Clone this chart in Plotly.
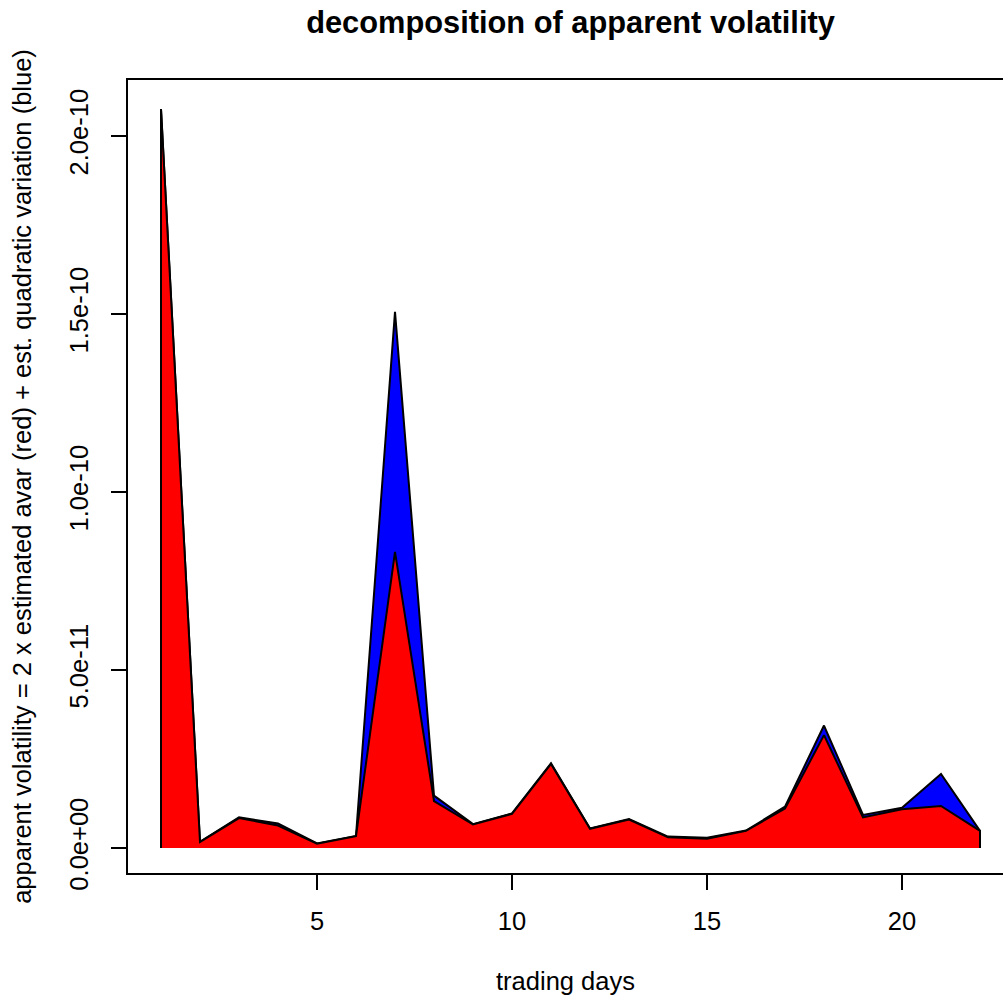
import plotly.graph_objects as go

days = list(range(1, 23))
# 2 x estimated avar (red component)
avar2 = [2.076e-10, 1.7e-12, 8.4e-12, 6.3e-12, 1.2e-12, 3.3e-12, 8.32e-11, 1.32e-11,
         6.6e-12, 9.6e-12, 2.36e-11, 5.4e-12, 8.0e-12, 3.0e-12, 2.6e-12, 4.8e-12,
         1.11e-11, 3.17e-11, 8.6e-12, 1.09e-11, 1.18e-11, 4.8e-12]
# estimated quadratic variation (blue component, stacked on top)
qv = [0.0, 0.0, 0.2e-12, 0.6e-12, 0.1e-12, 0.1e-12, 6.74e-11, 1.5e-12,
      0.1e-12, 0.1e-12, 0.2e-12, 0.1e-12, 0.1e-12, 0.2e-12, 0.3e-12, 0.1e-12,
      0.5e-12, 2.7e-12, 0.7e-12, 0.4e-12, 9.0e-12, 0.0]
ytick_vals = [0.0, 5e-11, 1e-10, 1.5e-10, 2e-10]
ytick_text = ["0.0e+00", "5.0e-11", "1.0e-10", "1.5e-10", "2.0e-10"]
xtick_vals = [5, 10, 15, 20]

total = [a + q for a, q in zip(avar2, qv)]

poly_x = [days[0]] + days + [days[-1]]
fig = go.Figure()
fig.add_trace(go.Scatter(
    x=poly_x, y=[0] + total + [0], mode="lines", fill="toself",
    fillcolor="#0000FF", line=dict(color="black", width=2),
    hoverinfo="skip", showlegend=False))
fig.add_trace(go.Scatter(
    x=poly_x, y=[0] + avar2 + [0], mode="lines", fill="toself",
    fillcolor="#FF0000", line=dict(color="black", width=2),
    hoverinfo="skip", showlegend=False))

FONT = "Liberation Sans, Arial, Helvetica, sans-serif"
FS = 25.5
W, H = 1003, 999
left, top, bottom = 128, 80, 873
px_per_day = 39.0
x_at_1 = 161.0
x0 = 1 - (x_at_1 - left) / px_per_day
x1 = 1 + (W - x_at_1) / px_per_day
px_per_unit = 178.0 / 5e-11
y_zero = 848.0
y0 = -(bottom - y_zero) / px_per_unit
y1 = (y_zero - top) / px_per_unit

fig.update_layout(
    width=W, height=H,
    margin=dict(l=left, r=0, t=top, b=H - bottom, pad=0),
    paper_bgcolor="white", plot_bgcolor="white",
    font=dict(family=FONT, size=FS, color="black"),
    title=dict(text="<b>decomposition of apparent volatility</b>",
               font=dict(family=FONT, size=30.8, color="black"),
               x=570.5 / W, xanchor="center", xref="container",
               y=1 - 22 / H, yanchor="middle", yref="container"),
    xaxis=dict(range=[x0, x1], tickvals=xtick_vals, ticks="outside", ticklen=15,
               tickwidth=1.5, tickcolor="black", showgrid=False, zeroline=False,
               showline=True, linecolor="black", linewidth=1.5, mirror=True,
               automargin=False, ticklabelstandoff=10,
               title=dict(text="trading days", standoff=38,
                          font=dict(family=FONT, size=FS)),
               tickfont=dict(family=FONT, size=FS)),
    yaxis=dict(range=[y0, y1], tickvals=ytick_vals, ticktext=ytick_text,
               ticks="outside", ticklen=15, tickwidth=1.5, tickcolor="black",
               tickangle=-90, showgrid=False, zeroline=False,
               showline=True, linecolor="black", linewidth=1.5, mirror=False,
               automargin=False, ticklabelstandoff=13,
               title=dict(text="apparent volatility = 2 x estimated avar (red) + est. quadratic variation (blue)",
                          standoff=26, font=dict(family=FONT, size=FS)),
               tickfont=dict(family=FONT, size=FS)),
)
fig.write_html("out.html", config={"displayModeBar": False},
               post_script="document.body.style.margin='0px';")
